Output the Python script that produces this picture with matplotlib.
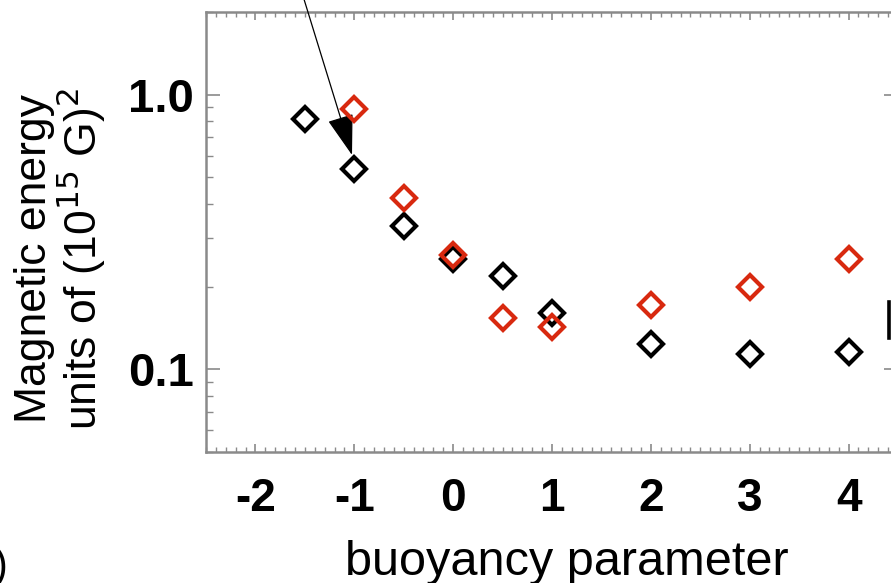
import matplotlib
matplotlib.use("Agg")
import matplotlib.pyplot as plt
from matplotlib.ticker import MultipleLocator, FixedLocator, NullFormatter
from matplotlib.lines import Line2D

plt.rcParams['font.family'] = ['Liberation Sans', 'DejaVu Sans']

# data
x_black = [-1.5, -1, -0.5, 0, 0.5, 1, 2, 3, 4]
e_black = [0.814, 0.536, 0.333, 0.253, 0.218, 0.161, 0.124, 0.114, 0.116]
x_red = [-1, -0.5, 0, 0.5, 1, 2, 3, 4]
e_red = [0.884, 0.421, 0.261, 0.154, 0.142, 0.172, 0.200, 0.253]

xticks = [-2, -1, 0, 1, 2, 3, 4]
yticks = [0.1, 1.0]
ytick_labels = ["0.1", "1.0"]

W, H = 891, 583
fig = plt.figure(figsize=(W / 100, H / 100), dpi=100)
ax = fig.add_axes([206 / W, 131 / H, 692 / W, 440 / H])

gray = "#8a8a8a"
ax.plot(x_black, e_black, linestyle="none", marker="D", ms=12, mfc="none",
        mec="black", mew=3.0, zorder=3)
ax.plot(x_red, e_red, linestyle="none", marker="D", ms=12, mfc="none",
        mec="#d8290f", mew=3.0, zorder=4)

ax.set_yscale("log")
ax.set_xlim(-2.5, 4.5)
ax.set_ylim(0.05, 2.0)

ax.xaxis.set_major_locator(FixedLocator(xticks))
ax.xaxis.set_minor_locator(MultipleLocator(0.1))
ax.set_xticklabels([str(t) for t in xticks])
ax.yaxis.set_major_locator(FixedLocator(yticks))
ax.set_yticklabels(ytick_labels)
ax.yaxis.set_minor_formatter(NullFormatter())

for s in ax.spines.values():
    s.set_color(gray)
    s.set_linewidth(1.8)

ax.tick_params(axis="x", which="major", direction="in", length=6, width=1.2,
               color=gray, top=True, pad=18, labelsize=33)
ax.tick_params(axis="x", which="minor", direction="in", length=3.5, width=1.0,
               color=gray, top=True)
ax.tick_params(axis="y", which="major", direction="in", length=10, width=1.2,
               color=gray, right=True, pad=9, labelsize=34)
ax.tick_params(axis="y", which="minor", direction="in", length=5, width=1.0,
               color=gray, right=True)
for lab in ax.get_xticklabels() + ax.get_yticklabels():
    lab.set_fontweight("bold")

fig.text(567 / W, 8 / H, "buoyancy parameter", fontsize=35, ha="center",
         va="baseline")
fig.text(61 / W, (H - 259) / H, "Magnetic energy\nunits of (10$^{15}$ G)$^2$",
         fontsize=32, rotation=90, ha="center", va="center", linespacing=1.0,
         multialignment="center")

# arrow coming from the panel above
ax.annotate("", xy=(352, H - 155), xycoords="figure pixels",
            xytext=(303, H + 4), textcoords="figure pixels",
            arrowprops=dict(arrowstyle="-|>,head_length=1.3,head_width=0.42",
                            mutation_scale=20, color="black", lw=0.9,
                            shrinkA=0, shrinkB=0))

# edges of neighbouring panels
fig.text(-6 / W, -4 / H, ")", fontsize=30, ha="left", va="bottom")
fig.add_artist(Line2D([889 / W, 889 / W], [(H - 302) / H, (H - 338) / H],
                      color="black", lw=2.6))

fig.savefig("out.png", dpi=100)
